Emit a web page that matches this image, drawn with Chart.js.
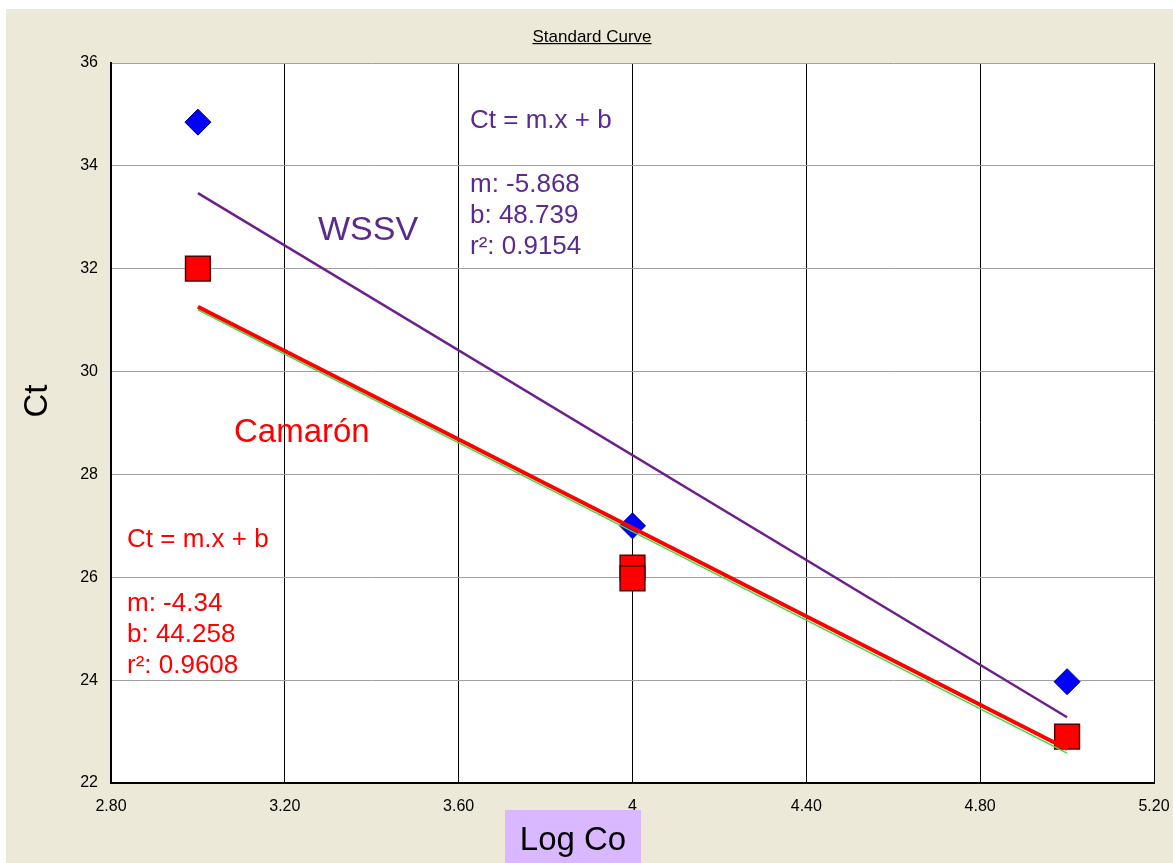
<!DOCTYPE html>
<html><head><meta charset="utf-8">
<script src="https://cdn.jsdelivr.net/npm/chart.js@4"></script>
<style>html,body{margin:0;padding:0;background:#fff;overflow:hidden}#wrap{width:1173px;height:863px;position:relative}</style>
</head><body><div id="wrap"><canvas id="c" width="1173" height="863"></canvas></div>
<script>
// ---- data ----
const xTicks = [2.8, 3.2, 3.6, 4.0, 4.4, 4.8, 5.2];
const xTickLabels = ["2.80", "3.20", "3.60", "4", "4.40", "4.80", "5.20"];
const yTicks = [22, 24, 26, 28, 30, 32, 34, 36];
const wssvX = [3, 4, 5];
const wssvCt = [34.85, 27.0, 23.97];
const camaronX = [3, 4, 4, 5];
const camaronCt = [32.0, 26.19, 25.98, 22.9];
const fitX = [3, 5];
const wssvFit = [33.47, 23.28];
const camaronFit = [31.26, 22.66];
const camaronFit2 = [31.2, 22.58];
const titleText = "Standard Curve";
const xTitle = "Log Co";
const yTitle = "Ct";
const wssvLabel = "WSSV";
const camaronLabel = "Camarón";
const wssvEq = ["Ct = m.x + b", "m: -5.868", "b: 48.739", "r²: 0.9154"];
const camaronEq = ["Ct = m.x + b", "m: -4.34", "b: 44.258", "r²: 0.9608"];

const pts = (xs, ys) => xs.map((x, i) => ({x: x, y: ys[i]}));

const FONT = "'Liberation Sans', Arial, sans-serif";
const PURPLE = "#5b2a8e";
const RED = "#ff0000";

const decor = {
  id: 'decor',
  beforeDraw(chart) {
    const ctx = chart.ctx, a = chart.chartArea;
    ctx.save();
    ctx.fillStyle = '#ffffff';
    ctx.fillRect(0, 0, chart.width, chart.height);
    ctx.fillStyle = '#ece9d8';
    ctx.fillRect(6, 9, chart.width - 6, chart.height - 9);
    ctx.fillStyle = '#ffffff';
    ctx.fillRect(a.left, a.top, a.right - a.left, a.bottom - a.top);
    ctx.restore();
  },
  afterDraw(chart) {
    const ctx = chart.ctx;
    ctx.save();
    // title
    ctx.fillStyle = '#000';
    ctx.font = "17px " + FONT;
    ctx.textAlign = 'center';
    ctx.textBaseline = 'alphabetic';
    const cx = 592;
    ctx.fillText(titleText, cx, 42);
    const tw = ctx.measureText(titleText).width;
    ctx.fillRect(cx - tw / 2, 43, tw, 1.2);
    // y title
    ctx.save();
    ctx.translate(47, 401);
    ctx.rotate(-Math.PI / 2);
    ctx.font = "33px " + FONT;
    ctx.textAlign = 'center';
    ctx.fillText(yTitle, 0, 0);
    ctx.restore();
    // x title box
    ctx.fillStyle = '#d9b8ff';
    ctx.fillRect(505, 810, 136, 53);
    ctx.fillStyle = '#000';
    ctx.font = "33px " + FONT;
    ctx.textAlign = 'center';
    ctx.fillText(xTitle, 573, 850);
    // annotations
    ctx.textAlign = 'left';
    ctx.fillStyle = PURPLE;
    ctx.font = "26px " + FONT;
    ctx.fillText(wssvEq[0], 470, 128);
    ctx.fillText(wssvEq[1], 470, 192);
    ctx.fillText(wssvEq[2], 470, 223);
    ctx.fillText(wssvEq[3], 470, 254);
    ctx.font = "34px " + FONT;
    ctx.fillText(wssvLabel, 318, 240);
    ctx.fillStyle = RED;
    ctx.font = "33px " + FONT;
    ctx.fillText(camaronLabel, 234, 442);
    ctx.font = "26px " + FONT;
    ctx.fillText(camaronEq[0], 127, 547);
    ctx.fillText(camaronEq[1], 127, 611);
    ctx.fillText(camaronEq[2], 127, 642);
    ctx.fillText(camaronEq[3], 127, 673);
    ctx.restore();
  }
};

new Chart(document.getElementById('c'), {
  type: 'scatter',
  data: {
    datasets: [
      { label: 'WSSV fit', data: pts(fitX, wssvFit), showLine: true, borderColor: '#6e1d8c', borderWidth: 2.4, pointRadius: 0, order: 1 },
      { label: 'Camarón fit', data: pts(fitX, camaronFit), showLine: true, borderColor: '#ff0000', borderWidth: 4, pointRadius: 0, order: 1 },
      { label: 'Camarón fit 2', data: pts(fitX, camaronFit2), showLine: true, borderColor: '#3ddc3d', borderWidth: 1.5, pointRadius: 0, order: 2 },
      { label: 'WSSV', data: pts(wssvX, wssvCt), pointStyle: 'rectRot', pointRadius: 13, backgroundColor: '#0000ff', borderColor: '#000080', borderWidth: 1, order: 3 },
      { label: 'Camarón', data: pts(camaronX, camaronCt), pointStyle: 'rect', pointRadius: 17.5, backgroundColor: '#ff0000', borderColor: '#5a0000', borderWidth: 1.5, order: 3 }
    ]
  },
  options: {
    responsive: false,
    animation: false,
    devicePixelRatio: 1,
    layout: { padding: { left: 0, top: 63, right: 19, bottom: 0 } },
    plugins: { legend: { display: false }, tooltip: { enabled: false }, title: { display: false } },
    scales: {
      x: {
        type: 'linear', min: 2.8, max: 5.2,
        afterFit(s) { s.height = 80; s.paddingLeft = 0; s.paddingRight = 0; },
        afterBuildTicks(s) { s.ticks = xTicks.map(v => ({ value: v })); },
        ticks: { callback: (v, i) => xTickLabels[i], color: '#000', font: { family: FONT, size: 16 }, padding: 14, maxRotation: 0, autoSkip: false },
        grid: { color: '#000', lineWidth: 1, drawTicks: false },
        border: { color: '#000', width: 2 }
      },
      y: {
        type: 'linear', min: 22, max: 36,
        afterFit(s) { s.width = 111; s.paddingTop = 0; s.paddingBottom = 0; },
        afterBuildTicks(s) { s.ticks = yTicks.map(v => ({ value: v })); },
        ticks: { callback: (v) => String(v), color: '#000', font: { family: FONT, size: 16 }, padding: 13, autoSkip: false },
        grid: { color: '#a0a0a0', lineWidth: 1, drawTicks: false },
        border: { color: '#000', width: 2 }
      }
    }
  },
  plugins: [decor]
});
</script>
</body></html>
